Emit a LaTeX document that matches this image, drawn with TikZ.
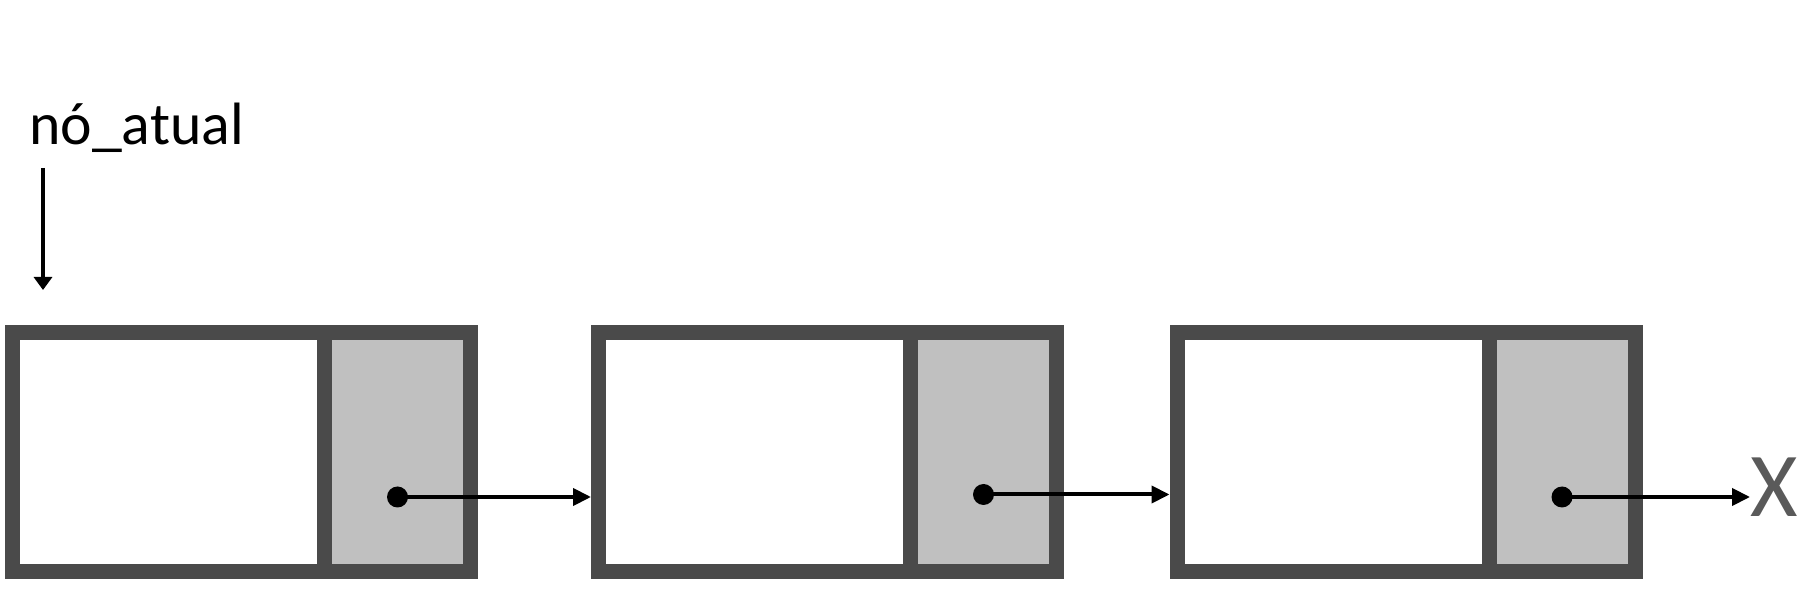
\documentclass[tikz,border=0pt]{standalone}
\usepackage{fontspec}
\setmainfont{Carlito}
\usetikzlibrary{arrows.meta}
\definecolor{borda}{RGB}{74,74,74}
\definecolor{campo}{RGB}{192,192,192}
\definecolor{nulo}{RGB}{90,90,90}

\begin{document}
\begin{tikzpicture}[
    no/.style={draw=borda, fill=white, line width=0.3cm,
        minimum width=9.16cm, minimum height=4.78cm, inner sep=0pt},
    prox/.style={draw=borda, fill=campo, line width=0.3cm,
        minimum width=2.92cm, minimum height=4.78cm, inner sep=0pt, anchor=north east},
    ponto/.style={circle, fill=black, inner sep=0pt, minimum size=0.42cm},
    ponteiro/.style={-{Triangle[length=0.36cm,width=0.34cm]}, line width=0.08cm}
]
    % Fixed frame, margins included
    \useasboundingbox (0,0) rectangle (35.98,11.84);

    % Label of the current node and its pointer
    \node[anchor=base west, inner sep=0pt, font=\fontsize{34}{40}\selectfont] (rotulo) at (0.58,8.94) {nó\_atual};
    \coordinate (alvo) at (0.86,6.04);
    \draw[ponteiro, -{Triangle[length=0.26cm,width=0.36cm]}, shorten <=0.46cm] (rotulo.base -| alvo) -- (alvo);

    % First node (data field + next field)
    \node[no] (no1) at (4.83,2.80) {};
    \node[prox] (prox1) at (no1.north east) {};
    \node[ponto] (ponto1) at ([yshift=-0.9cm]prox1.center) {};

    % Second node
    \node[no] (no2) at (16.55,2.80) {};
    \node[prox] (prox2) at (no2.north east) {};
    \node[ponto] (ponto2) at ([yshift=-0.85cm]prox2.center) {};

    % Third node
    \node[no] (no3) at (28.12,2.80) {};
    \node[prox] (prox3) at (no3.north east) {};
    \node[ponto] (ponto3) at ([yshift=-0.9cm]prox3.center) {};

    % Links between the nodes
    \draw[ponteiro] (ponto1.center) -- (ponto1 -| no2.west);
    \draw[ponteiro] (ponto2.center) -- (ponto2 -| no3.west);

    % End of the list
    \node[text=nulo, anchor=west, inner sep=0pt, font=\fontsize{52}{60}\selectfont] (fim) at (35.0,2.10) {X};
    \draw[ponteiro] (ponto3.center) -- (ponto3 -| fim.west);

\end{tikzpicture}
\end{document}
